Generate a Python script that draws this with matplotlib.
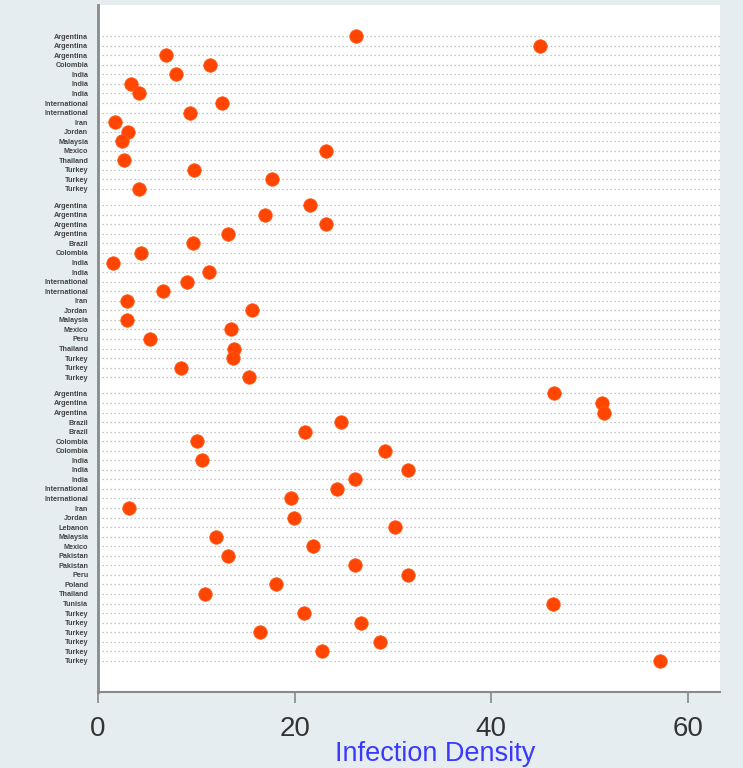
import matplotlib.pyplot as plt

plt.rcParams['font.family'] = ['Liberation Sans', 'DejaVu Sans']

# country labels and infection density, three groups from top to bottom
group1_labels = ['Argentina', 'Argentina', 'Argentina', 'Colombia', 'India', 'India', 'India',
                 'International', 'International', 'Iran', 'Jordan', 'Malaysia', 'Mexico',
                 'Thailand', 'Turkey', 'Turkey', 'Turkey']
group1_values = [26.2, 44.9, 6.9, 11.4, 7.9, 3.4, 4.2, 12.6, 9.4, 1.7, 3.1, 2.4, 23.2,
                 2.6, 9.8, 17.7, 4.2]

group2_labels = ['Argentina', 'Argentina', 'Argentina', 'Argentina', 'Brazil', 'Colombia',
                 'India', 'India', 'International', 'International', 'Iran', 'Jordan',
                 'Malaysia', 'Mexico', 'Peru', 'Thailand', 'Turkey', 'Turkey', 'Turkey']
group2_values = [21.6, 17.0, 23.2, 13.2, 9.7, 4.4, 1.5, 11.3, 9.1, 6.6, 2.9, 15.7, 2.9,
                 13.5, 5.3, 13.8, 13.7, 8.4, 15.4]

group3_labels = ['Argentina', 'Argentina', 'Argentina', 'Brazil', 'Brazil', 'Colombia',
                 'Colombia', 'India', 'India', 'India', 'International', 'International',
                 'Iran', 'Jordan', 'Lebanon', 'Malaysia', 'Mexico', 'Pakistan', 'Pakistan',
                 'Peru', 'Poland', 'Thailand', 'Tunisia', 'Turkey', 'Turkey', 'Turkey',
                 'Turkey', 'Turkey', 'Turkey']
group3_values = [46.4, 51.2, 51.5, 24.7, 21.0, 10.1, 29.2, 10.6, 31.5, 26.1, 24.3, 19.6,
                 3.2, 19.9, 30.2, 12.0, 21.9, 13.2, 26.1, 31.5, 18.1, 10.9, 46.3, 20.9,
                 26.7, 16.5, 28.7, 22.8, 57.1]

groups = [(group1_labels, group1_values),
          (group2_labels, group2_values),
          (group3_labels, group3_values)]

# build row positions with a small gap between groups
gap = 1.7
positions = []
labels = []
values = []
pos = 0.0
for gi, (labs, vals) in enumerate(groups):
    if gi > 0:
        pos += gap
    for lab, val in zip(labs, vals):
        positions.append(pos)
        labels.append(lab)
        values.append(val)
        pos += 1
    pos -= 1

bg = '#e6edf1'
fig = plt.figure(figsize=(7.43, 7.68), dpi=100, facecolor=bg)
ax = fig.add_axes([98 / 743, 1 - 692 / 768, 622 / 743, 687 / 768])
ax.set_facecolor('white')

# dotted row guides
for p in positions:
    ax.axhline(p, color='#b4b4b4', linestyle=(0, (1, 2.2)), linewidth=0.9, zorder=1)

ax.scatter(values, positions, s=95, color='#ff4500', edgecolors='#ff5a1a',
           linewidths=0.5, zorder=3, clip_on=False)

margin = 3.26
ax.set_ylim(positions[-1] + margin, -margin)
ax.set_xlim(0, 63.25)

ax.set_yticks(positions)
ax.set_yticklabels(labels, fontsize=5.2, color='#444444', fontweight='bold')
ax.tick_params(axis='y', length=0, pad=7)

ax.set_xticks([0, 20, 40, 60])
ax.tick_params(axis='x', length=8, width=1.2, color='#888888', labelsize=20,
               labelcolor='#333333', pad=9)

ax.set_xlabel('Infection Density', fontsize=19.5, color='#3a3aff')
ax.xaxis.set_label_coords(0.542, -0.072)

for side in ['top', 'right']:
    ax.spines[side].set_visible(False)
ax.spines['left'].set_color('#8a8a8a')
ax.spines['left'].set_linewidth(2)
ax.spines['bottom'].set_color('#8a8a8a')
ax.spines['bottom'].set_linewidth(1.5)

plt.savefig('out.png', dpi=100, facecolor=bg)
